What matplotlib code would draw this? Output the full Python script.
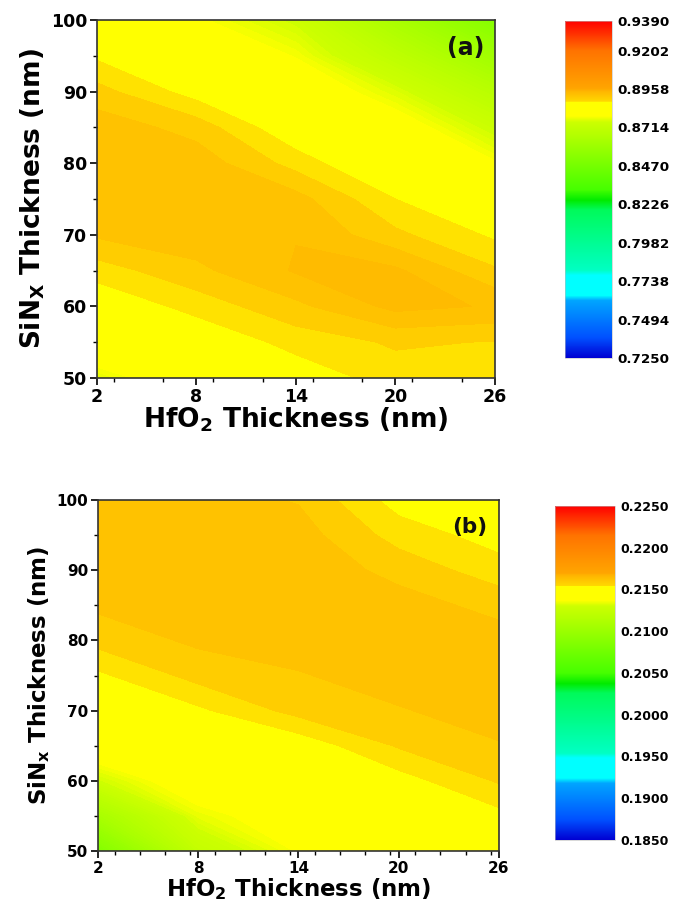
import numpy as np
import matplotlib
matplotlib.use("Agg")
import matplotlib.pyplot as plt
from matplotlib.colors import LinearSegmentedColormap, Normalize
from matplotlib.cm import ScalarMappable
from matplotlib.ticker import MultipleLocator

plt.rcParams['font.family'] = ['DejaVu Sans']
plt.rcParams['font.weight'] = 'bold'
plt.rcParams['mathtext.fontset'] = 'dejavusans'

# grid: HfO2 thickness (nm) along x, SiNx thickness (nm) along y
hfo2 = [2, 8, 14, 20, 26]
sinx = [50, 55, 60, 65, 70, 75, 80, 85, 90, 95, 100]

# panel (a) values, one row per SiNx thickness
z_a = [
    [0.8765, 0.8815, 0.8855, 0.8880, 0.8880],
    [0.8820, 0.8850, 0.8878, 0.8893, 0.8889],
    [0.8850, 0.8878, 0.8905, 0.8936, 0.8928],
    [0.8880, 0.8905, 0.8932, 0.8934, 0.8893],
    [0.8913, 0.8922, 0.8929, 0.8895, 0.8866],
    [0.8926, 0.8927, 0.8918, 0.8870, 0.8830],
    [0.8928, 0.8922, 0.8882, 0.8840, 0.8785],
    [0.8922, 0.8902, 0.8850, 0.8805, 0.8740],
    [0.8898, 0.8860, 0.8815, 0.8760, 0.8680],
    [0.8866, 0.8822, 0.8780, 0.8700, 0.8605],
    [0.8835, 0.8787, 0.8745, 0.8635, 0.8520],
]

# panel (b) values
z_b = [
    [0.2086, 0.2124, 0.2137, 0.2143, 0.2148],
    [0.2108, 0.2134, 0.2141, 0.2147, 0.21515],
    [0.2130, 0.2142, 0.2145, 0.2151, 0.2157],
    [0.2143, 0.2147, 0.2150, 0.2157, 0.2160],
    [0.2148, 0.2152, 0.2158, 0.2160, 0.2162],
    [0.2152, 0.2158, 0.2160, 0.2162, 0.2163],
    [0.2158, 0.2161, 0.2162, 0.2163, 0.2162],
    [0.2161, 0.2163, 0.2163, 0.2162, 0.2159],
    [0.2162, 0.2163, 0.2163, 0.2159, 0.21545],
    [0.2163, 0.2163, 0.2162, 0.2155, 0.2151],
    [0.2163, 0.2162, 0.2160, 0.2151, 0.2148],
]

ticks_a = [0.7250, 0.7494, 0.7738, 0.7982, 0.8226, 0.8470, 0.8714, 0.8958, 0.9202, 0.9390]
ticks_b = [0.1850, 0.1900, 0.1950, 0.2000, 0.2050, 0.2100, 0.2150, 0.2200, 0.2250]

# rainbow map with flat cyan and yellow bands
nodes = [
    (0.000, (0, 0, 210)),
    (0.060, (0, 80, 255)),
    (0.170, (0, 165, 255)),
    (0.185, (0, 255, 255)),
    (0.245, (0, 255, 255)),
    (0.260, (0, 255, 195)),
    (0.440, (0, 250, 90)),
    (0.468, (0, 235, 0)),
    (0.500, (70, 255, 0)),
    (0.700, (205, 255, 0)),
    (0.718, (255, 255, 0)),
    (0.760, (255, 255, 0)),
    (0.762, (255, 216, 0)),
    (0.790, (255, 183, 0)),
    (0.800, (255, 165, 0)),
    (0.912, (255, 115, 0)),
    (1.000, (255, 0, 0)),
]
cmap = LinearSegmentedColormap.from_list(
    'origin_rainbow', [(f, tuple(c / 255 for c in rgb)) for f, rgb in nodes], N=1024)

# fill levels as fractions of the colour range: fine steps through the
# gradients, a few coarse steps across the orange plateau
level_frac = np.concatenate([np.linspace(0, 0.7196, 200),
                             [0.757, 0.7664, 0.7757],
                             np.linspace(0.785, 1.0, 60)])

fig = plt.figure(figsize=(6.73, 9.14), dpi=100)

panels = [
    dict(z=z_a, ticks=ticks_a, tag='(a)', tagfs=17, ax=[0.1441, 0.5864, 0.5914, 0.3917],
         cax=[0.8395, 0.6083, 0.0698, 0.3687], xminor=3,
         ylab=r'SiN$_{\mathbf{X}}$ Thickness (nm)', xlab=r'HfO$_{\mathbf{2}}$ Thickness (nm)',
         tfs=12.5, lfs=19, cfs=9.7),
    dict(z=z_b, ticks=ticks_b, tag='(b)', tagfs=15.5, ax=[0.1456, 0.0689, 0.5958, 0.3840],
         cax=[0.8247, 0.0810, 0.0892, 0.3654], xminor=1.5,
         ylab=r'SiN$_{\mathbf{x}}$ Thickness (nm)', xlab=r'HfO$_{\mathbf{2}}$ Thickness (nm)',
         tfs=11, lfs=16.5, cfs=9),
]

for p in panels:
    ax = fig.add_axes(p['ax'])
    vmin, vmax = p['ticks'][0], p['ticks'][-1]
    norm = Normalize(vmin=vmin, vmax=vmax)
    levels = vmin + level_frac * (vmax - vmin)
    ax.contourf(hfo2, sinx, np.array(p['z']), levels=levels, cmap=cmap, norm=norm,
                antialiased=False)

    ax.set_xlim(2, 26)
    ax.set_ylim(50, 100)
    ax.set_xticks([2, 8, 14, 20, 26])
    ax.set_yticks([50, 60, 70, 80, 90, 100])
    ax.xaxis.set_minor_locator(MultipleLocator(p['xminor']))
    ax.yaxis.set_minor_locator(MultipleLocator(5))
    ax.tick_params(which='major', direction='out', length=5, width=1.2,
                   labelsize=p['tfs'], pad=2)
    ax.tick_params(which='minor', direction='out', length=3, width=1.0)
    for lab in ax.get_xticklabels() + ax.get_yticklabels():
        lab.set_fontweight('bold')
    for s in ax.spines.values():
        s.set_linewidth(1.2)
        s.set_color('#333333')
    ax.set_xlabel(p['xlab'], fontsize=p['lfs'], fontweight='bold', labelpad=0)
    ax.set_ylabel(p['ylab'], fontsize=p['lfs'], fontweight='bold', labelpad=3)
    ax.text(24.25, 96.1, p['tag'], fontsize=p['tagfs'], fontweight='bold',
            ha='center', va='center', color='#111111')

    cax = fig.add_axes(p['cax'])
    cb = fig.colorbar(ScalarMappable(norm=norm, cmap=cmap), cax=cax)
    cb.set_ticks(p['ticks'])
    cb.set_ticklabels(['%.4f' % t for t in p['ticks']])
    cb.ax.tick_params(length=0, labelsize=p['cfs'], pad=4)
    for lab in cb.ax.get_yticklabels():
        lab.set_fontweight('bold')
    cb.outline.set_linewidth(0.4)
    cb.outline.set_edgecolor('#bbbbbb')

fig.savefig('out.png', dpi=100)
